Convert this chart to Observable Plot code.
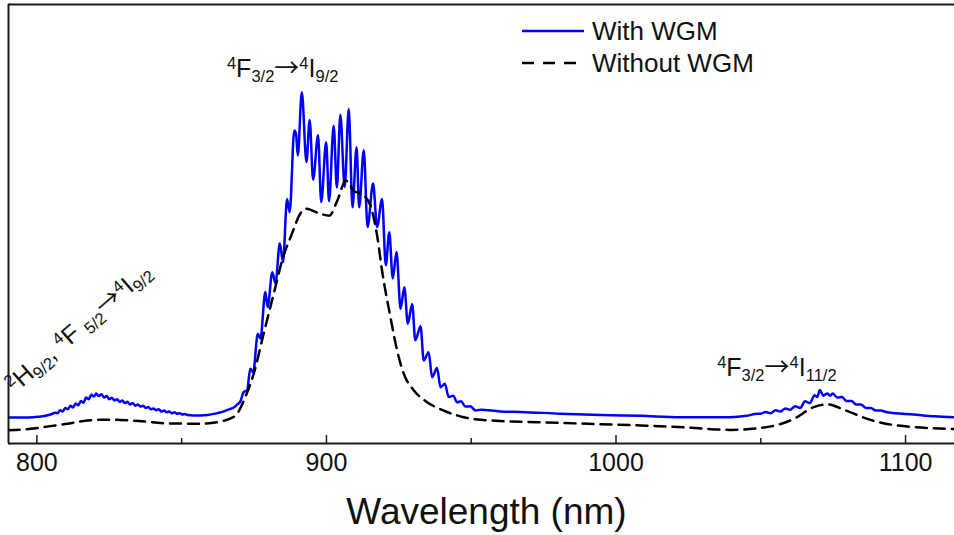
<!DOCTYPE html>
<html><head><meta charset="utf-8">
<script src="https://cdn.jsdelivr.net/npm/d3@7"></script>
<script src="https://cdn.jsdelivr.net/npm/@observablehq/plot@0.6"></script>
<style>html,body{margin:0;padding:0;background:#fff;} svg{display:block}</style>
</head><body><div id="chart"></div>
<script>
// ---- data ----
const withWavelength = [790.3,795.0,798.9,802.0,804.7,806.4,807.2,
808.0,808.9,809.8,810.7,811.6,812.5,813.4,814.3,815.2,816.1,817.0,817.9,818.8,819.7,820.5,821.4,822.3,823.2,824.1,825.0,825.9,826.8,827.7,828.6,829.5,830.4,831.3,832.2,833.1,834.0,834.9,835.8,836.7,837.6,838.5,839.4,840.3,841.2,842.1,843.0,843.9,844.8,845.7,846.6,847.5,848.4,849.3,850.2,851.1,852.0,
854.0,856.5,859.0,861.6,864.0,866.8,868.0,869.2,870.3,871.4,872.6,873.7,874.7,876.3,877.2,878.9,879.7,881.3,882.4,883.9,885.0,886.4,887.3,888.9,889.5,890.1,891.5,893.1,894.2,895.4,897.1,898.2,899.9,900.9,902.5,903.6,904.8,906.3,907.7,909.0,910.4,911.3,912.9,914.2,916.1,917.5,919.2,920.5,921.7,922.9,924.2,925.6,926.9,928.1,929.6,930.7,932.5,933.6,935.3,936.5,938.2,939.4,940.9,942.2,943.8,945.1,946.5,948.0,949.7,951.5,953.2,960.0,967.0,980.8,994.6,1008.5,1022.3,1039.5,1045.0,1048.8,
1050.0,1051.7,1053.4,1055.1,1056.8,1058.5,1060.2,1061.9,1063.6,1065.3,1066.9,1068.6,1069.5,1070.4,1071.6,1073.0,1074.0,1074.8,1076.4,1078.0,1079.6,1081.3,1082.9,1084.6,1086.3,1088.0,1089.7,1091.4,1093.7,1102.9,1110.0,1116.9];
const withIntensity = [5.9,5.9,6.0,6.2,6.6,7.0,6.9,
7.6,7.3,8.1,7.8,8.6,8.2,9.1,8.7,9.7,9.3,10.5,10.1,11.1,10.7,11.4,10.8,11.2,10.5,10.8,10.1,10.4,9.8,10.1,9.5,9.8,9.2,9.5,8.9,9.2,8.6,8.9,8.4,8.6,8.1,8.3,7.8,8.0,7.6,7.8,7.3,7.5,7.1,7.3,6.9,7.1,6.8,6.9,6.6,6.7,6.5,
6.4,6.4,6.5,6.8,7.2,7.9,8.2,8.9,9.6,11.7,12.1,17.0,16.2,25.0,23.9,34.5,31.1,39.0,36.5,45.6,41.3,55.7,52.7,71.3,70.6,65.6,80.0,64.1,73.7,60.1,70.2,55.0,68.6,55.2,72.4,58.3,74.9,58.4,76.2,53.8,67.5,53.8,66.8,49.3,59.2,49.3,55.7,40.6,48.1,37.6,43.6,30.7,35.6,27.3,31.8,23.5,26.7,18.9,20.8,15.1,17.2,12.8,13.6,10.6,10.9,9.4,9.6,8.4,8.5,7.5,7.7,7.3,7.2,6.8,6.5,6.3,6.0,6.0,6.3,6.8,
6.8,7.2,6.9,7.6,7.3,8.0,7.7,8.5,8.1,9.6,9.2,11.0,10.6,12.2,10.9,11.4,10.9,11.4,10.5,10.6,9.7,9.7,8.9,8.9,8.1,8.1,7.5,7.5,7.1,6.6,6.2,6.0];
const withoutWavelength = [790.3,798.9,804.0,810.4,816.0,821.9,827.0,833.4,845.0,856.5,863.4,866.5,869.2,872.0,874.9,878.3,881.8,884.7,888.1,891.0,893.1,897.2,901.0,903.8,906.7,909.4,912.9,915.2,917.5,919.2,922.1,924.4,926.7,930.2,934.8,940.5,947.4,953.2,980.8,1008.5,1025.7,1039.5,1053.4,1061.4,1068.3,1073.0,1078.7,1086.8,1097.1,1116.9];
const withoutIntensity = [3.0,3.4,3.9,4.5,5.1,5.4,5.4,5.2,4.6,4.5,5.0,5.6,6.8,10.6,15.9,25.0,34.1,41.7,47.8,52.4,53.5,52.5,51.9,55.4,59.9,57.6,56.5,54.2,47.4,39.4,28.8,21.2,15.9,12.1,9.4,7.5,6.0,5.4,4.7,4.1,3.6,3.1,3.9,5.6,8.3,8.9,7.7,5.6,4.1,3.3];
const seriesNames = ["With WGM", "Without WGM"];
const majorTicks = [800, 900, 1000, 1100];
const minorTicks = [850, 950, 1050];
const xDomain = [790.2, 1116.9];
const yDomain = [0, 100];
const axisTitle = "Wavelength (nm)";
// annotation texts as [text, script] pieces ("sup", "sub", "arrow" or "")
const labelLeft  = [["2","sup"],["H",""],["9/2","sub"],[", ",""],["4","sup"],["F ",""],["5/2","sub"],["\u2192","arrow"],["4","sup"],["I",""],["9/2","sub"]];
const labelTop   = [["4","sup"],["F",""],["3/2","sub"],["\u2192","arrow"],["4","sup"],["I",""],["9/2","sub"]];
const labelRight = [["4","sup"],["F",""],["3/2","sub"],["\u2192","arrow"],["4","sup"],["I",""],["11/2","sub"]];
const labelAnchorsNm = [792.6, 865.8, 1035.1];
const labelAnchorsY  = [11.2, 83.4, 15.3];

const withData = withWavelength.map((w, i) => ({w, v: withIntensity[i]}));
const withoutData = withoutWavelength.map((w, i) => ({w, v: withoutIntensity[i]}));

const W = 954, H = 535, mT = 4, mB = 92, mL = 8, mR = 0;
const innerH = H - mT - mB;
const font = "'Liberation Sans', Arial, sans-serif";

const plot = Plot.plot({
  width: W, height: H,
  marginTop: mT, marginBottom: mB, marginLeft: mL, marginRight: mR,
  style: {fontFamily: font, background: "#fff", color: "#111", overflow: "visible"},
  x: {domain: xDomain},
  y: {domain: yDomain, axis: null},
  marks: [
    Plot.line(withData, {x: "w", y: "v", stroke: "#0000ff", strokeWidth: 2.5, curve: "monotone-x", clip: true}),
    Plot.line(withoutData, {x: "w", y: "v", stroke: "#000", strokeWidth: 2.5, strokeDasharray: "11,7", curve: "monotone-x", clip: true}),
    Plot.ruleX([xDomain[0]], {stroke: "#1a1a1a", strokeWidth: 2}),
    Plot.ruleY([yDomain[0], yDomain[1]], {stroke: "#1a1a1a", strokeWidth: 2}),
    Plot.ruleX(majorTicks, {x: d => d, stroke: "#1a1a1a", strokeWidth: 1.5, insetTop: innerH - 8}),
    Plot.ruleX(minorTicks, {x: d => d, stroke: "#1a1a1a", strokeWidth: 1.5, insetTop: innerH - 5}),
    Plot.axisX({ticks: majorTicks, tickSize: 0, tickPadding: 10, fontSize: 25, tickFormat: d => String(d), label: null, fill: "#111"}),
    Plot.text([axisTitle], {text: d => d, frameAnchor: "bottom", dy: 69, dx: 5, fontSize: 37, lineAnchor: "middle", fill: "#111"})
  ]
});
document.getElementById("chart").appendChild(plot);

// ---- annotations with super/subscripts ----
const svg = d3.select(plot);
const sx = plot.scale("x"), sy = plot.scale("y");
function rich(g, parts, fs, ss) {
  const t = g.append("text").attr("font-family", font).attr("font-size", fs)
    .attr("fill", "#111").attr("text-anchor", "start");
  let cur = 0;
  for (const [txt, k] of parts) {
    const target = k === "sup" ? -8 : k === "sub" ? 5 : 0;
    const sp = t.append("tspan").attr("dy", target - cur)
      .attr("font-size", (k === "sup" || k === "sub") ? ss : fs).text(txt);
    if (k === "arrow") sp.attr("font-family", "'Noto Sans CJK JP', 'Noto Sans CJK SC', sans-serif").attr("font-size", fs);
    cur = target;
  }
  return t;
}
const labels = [labelLeft, labelTop, labelRight];
const rotations = [-41, 0, 0];
labels.forEach((parts, i) => {
  const x = sx.apply(labelAnchorsNm[i]), y = sy.apply(labelAnchorsY[i]);
  const g = svg.append("g").attr("transform", `translate(${x},${y}) rotate(${rotations[i]})`);
  rich(g, parts, 25, 16.5);
});

// ---- legend ----
const lg = svg.append("g").attr("text-anchor", "start");
const legendRows = [
  {name: seriesNames[0], stroke: "#0000ff", dash: null, y: 31},
  {name: seriesNames[1], stroke: "#000", dash: "12,9", y: 63}
];
legendRows.forEach(r => {
  lg.append("line").attr("x1", 522).attr("x2", 584).attr("y1", r.y).attr("y2", r.y)
    .attr("stroke", r.stroke).attr("stroke-width", 2.5).attr("stroke-dasharray", r.dash);
  lg.append("text").attr("x", 592).attr("y", r.y + 9).attr("font-family", font)
    .attr("font-size", 26).attr("fill", "#111").attr("text-anchor", "start").text(r.name);
});
</script>
</body></html>
